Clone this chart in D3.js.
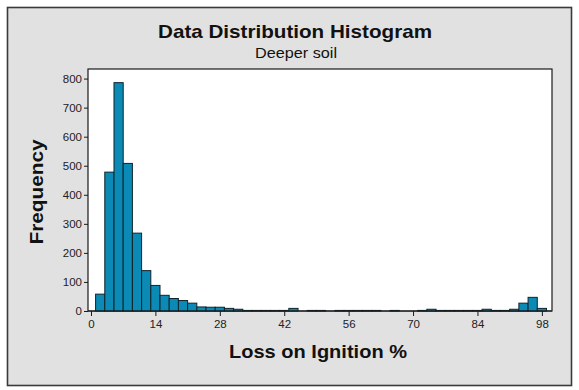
<!DOCTYPE html>
<html>
<head>
<meta charset="utf-8">
<script src="https://cdn.jsdelivr.net/npm/d3@7"></script>
<style>
  html, body { margin: 0; padding: 0; background: #ffffff; }
  svg { display: block; }
</style>
</head>
<body>
<svg id="chart" width="579" height="390"></svg>
<script>
// Histogram bins: each bin is 2 units wide, starting at 1
const binStarts = d3.range(1, 99, 2);
const frequencies = [
  58, 478, 786, 508, 268, 139, 88, 54, 43, 36,
  27, 14, 13, 13, 9, 6, 2, 2, 2, 2,
  2, 9, 0, 2, 2, 0, 2, 2, 2, 2,
  2, 0, 2, 0, 0, 2, 6, 2, 2, 2,
  2, 2, 6, 2, 2, 6, 27, 47, 9
];
const binWidth = 2;
const xTicks = [0, 14, 28, 42, 56, 70, 84, 98];
const yTicks = [0, 100, 200, 300, 400, 500, 600, 700, 800];

const titleText = "Data Distribution Histogram";
const subtitleText = "Deeper soil";
const xLabel = "Loss on Ignition %";
const yLabel = "Frequency";

const bins = binStarts.map((s, i) => ({ x0: s, x1: s + binWidth, n: frequencies[i] }));

const svg = d3.select("#chart");
const plot = { left: 88, right: 552, top: 69, bottom: 311 };
const FONT = "'Liberation Sans', Arial, sans-serif";

// Outer panel
svg.append("rect")
  .attr("x", 7.5).attr("y", 7.5)
  .attr("width", 564).attr("height", 378)
  .attr("fill", "#e1e1e1")
  .attr("stroke", "#3a3a3a").attr("stroke-width", 1.6);

const x = d3.scaleLinear().domain([-0.65, 100.2]).range([plot.left, plot.right]);
const y = d3.scaleLinear().domain([0, 833]).range([plot.bottom, plot.top]);

// Plot area
svg.append("rect")
  .attr("x", plot.left).attr("y", plot.top)
  .attr("width", plot.right - plot.left).attr("height", plot.bottom - plot.top)
  .attr("fill", "#ffffff")
  .attr("stroke", "#1a1a1a").attr("stroke-width", 1.2);

// Bars
svg.append("g")
  .selectAll("rect")
  .data(bins.filter(d => d.n > 0))
  .join("rect")
  .attr("x", d => x(d.x0))
  .attr("y", d => y(d.n))
  .attr("width", d => x(d.x1) - x(d.x0))
  .attr("height", d => y(0) - y(d.n))
  .attr("fill", "#0a8ab4")
  .attr("stroke", "#10232b")
  .attr("stroke-width", 1);

// Axes
const xAxis = d3.axisBottom(x).tickValues(xTicks).tickSize(5).tickPadding(4);
const gx = svg.append("g").attr("transform", `translate(0,${plot.bottom})`).call(xAxis);
const yAxis = d3.axisLeft(y).tickValues(yTicks).tickSize(4).tickPadding(2);
const gy = svg.append("g").attr("transform", `translate(${plot.left},0)`).call(yAxis);

[gx, gy].forEach(g => {
  g.select(".domain").remove();
  g.selectAll(".tick line").attr("stroke", "#1a1a1a");
  g.selectAll(".tick text")
    .attr("fill", "#222")
    .style("font-family", FONT)
    .style("font-size", "11.5px");
});

// Baseline along the bottom of the plot
svg.append("line")
  .attr("x1", plot.left).attr("x2", plot.right)
  .attr("y1", plot.bottom).attr("y2", plot.bottom)
  .attr("stroke", "#1a1a1a").attr("stroke-width", 1.2);

// Titles and axis labels
function label(sel, size, weight, len) {
  return sel.attr("text-anchor", "middle")
    .style("font-family", FONT)
    .style("font-size", size + "px")
    .style("font-weight", weight)
    .attr("fill", "#111")
    .attr("textLength", len)
    .attr("lengthAdjust", "spacingAndGlyphs");
}

label(svg.append("text").attr("x", 295).attr("y", 38), 19, "bold", 274).text(titleText);
label(svg.append("text").attr("x", 296).attr("y", 58), 15, "normal", 82).text(subtitleText);
label(svg.append("text").attr("x", 318).attr("y", 358), 19, "bold", 178).text(xLabel);
label(svg.append("text").attr("transform", "translate(43,192) rotate(-90)"), 19, "bold", 105).text(yLabel);
</script>
</body>
</html>
